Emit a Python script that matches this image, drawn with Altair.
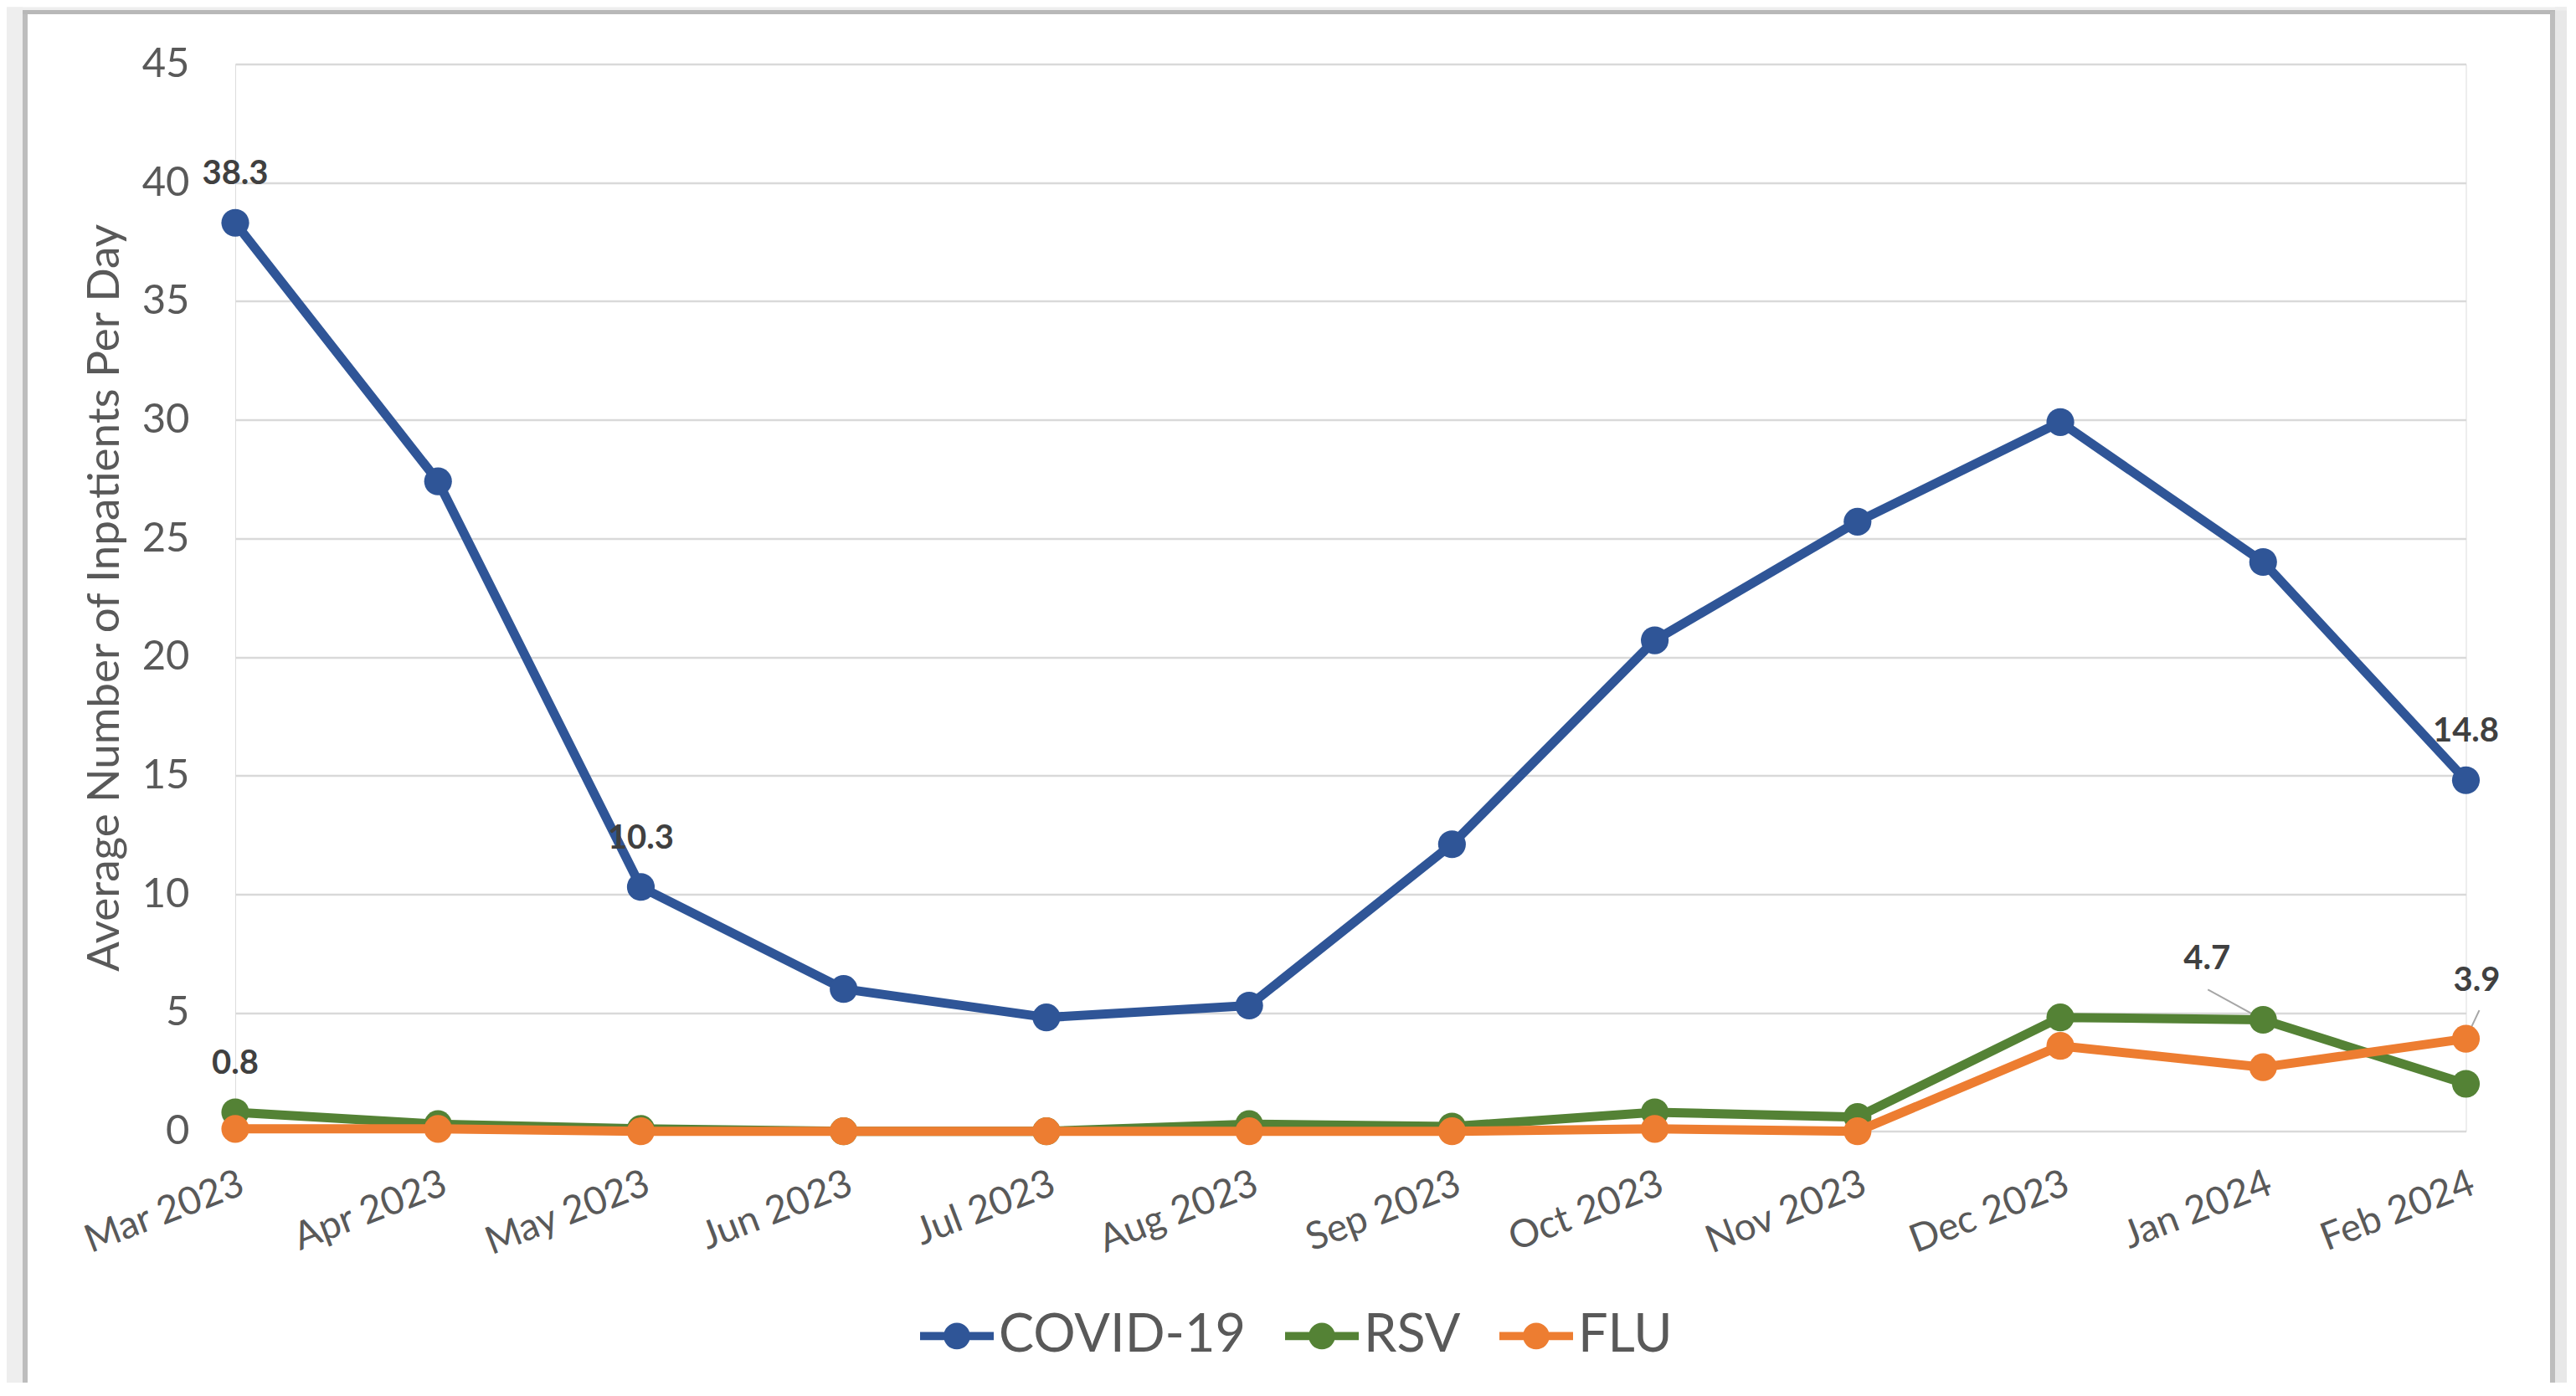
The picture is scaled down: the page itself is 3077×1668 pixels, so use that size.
import altair as alt
import pandas as pd

# ---- data ----
months = ["Mar 2023", "Apr 2023", "May 2023", "Jun 2023", "Jul 2023", "Aug 2023",
          "Sep 2023", "Oct 2023", "Nov 2023", "Dec 2023", "Jan 2024", "Feb 2024"]
covid = [38.3, 27.4, 10.3, 6.0, 4.8, 5.3, 12.1, 20.7, 25.7, 29.9, 24.0, 14.8]
rsv = [0.8, 0.3, 0.1, 0.0, 0.0, 0.3, 0.2, 0.8, 0.6, 4.8, 4.7, 2.0]
flu = [0.1, 0.1, 0.0, 0.0, 0.0, 0.0, 0.0, 0.1, 0.0, 3.6, 2.7, 3.9]
series = ["COVID-19", "RSV", "FLU"]
colors = ["#2F5597", "#548235", "#ED7D31"]
y_ticks = [0, 5, 10, 15, 20, 25, 30, 35, 40, 45]

# which points carry data labels
labels_above = [("COVID-19", "Mar 2023"), ("COVID-19", "May 2023"),
                ("COVID-19", "Feb 2024"), ("RSV", "Mar 2023")]
label_left_leader = [("RSV", "Jan 2024")]
label_right_leader = [("FLU", "Feb 2024")]

rows = []
for s, vals in zip(series, [covid, rsv, flu]):
    for m, v in zip(months, vals):
        rows.append({"month": m, "series": s, "value": v,
                     "lab": "above" if (s, m) in labels_above else
                            ("left" if (s, m) in label_left_leader else
                             ("right" if (s, m) in label_right_leader else "none"))})
df = pd.DataFrame(rows)

FONT = "Lato"
GRAY = "#595959"

x_enc = alt.X("month:N", sort=months,
              scale=alt.Scale(type="point", padding=0),
              axis=alt.Axis(title=None, labelAngle=-21, labelAlign="right",
                            labelBaseline="top", labelPadding=40, ticks=False,
                            tickSize=0, domain=False, grid=False, labelLimit=0,
                            labelFont=FONT, labelFontSize=46, labelColor=GRAY,
                            labelOverlap=False))
y_enc = alt.Y("value:Q",
              scale=alt.Scale(domain=[0, 45], nice=False, zero=True),
              axis=alt.Axis(values=y_ticks, title="Average Number of Inpatients Per Day",
                            titleFont=FONT, titleFontSize=53, titleFontWeight="normal",
                            titleColor=GRAY, titleX=-156, titleY=637.6, titleAngle=-90,
                            titleBaseline="middle", titleAlign="center",
                            labelFont=FONT, labelFontSize=49, labelColor=GRAY,
                            labelPadding=55, ticks=False, tickSize=0, domain=False,
                            grid=True, gridColor="#D9D9D9", gridWidth=2.5))

color_scale = alt.Scale(domain=series, range=colors)

legend_shape = ("M-1,-0.11H-0.3V0.11H-1Z "
                "M0.3,-0.11H1V0.11H0.3Z "
                "M-0.36,0A0.36,0.36 0 1,1 0.36,0A0.36,0.36 0 1,1 -0.36,0Z")

legend = alt.Legend(title=None, orient="none", legendX=818, legendY=1476,
                    direction="horizontal", labelFont=FONT, labelFontSize=63,
                    labelColor=GRAY, symbolType=legend_shape, symbolSize=7744,
                    symbolStrokeWidth=0, symbolOpacity=1, columnPadding=46,
                    labelOffset=6, padding=0, labelLimit=0)

base = alt.Chart(df)

layers = []

# leader lines (under markers)
leader_left = base.transform_filter(alt.datum.lab == "left").mark_rule(
    color="#A6A6A6", strokeWidth=2, xOffset=-66, yOffset=-36, x2Offset=-4, y2Offset=-2
).encode(x=x_enc, x2="month:N", y=y_enc, y2="value:Q")
leader_right = base.transform_filter(alt.datum.lab == "right").mark_rule(
    color="#A6A6A6", strokeWidth=2, xOffset=16, yOffset=-34, x2Offset=0, y2Offset=0
).encode(x=x_enc, x2="month:N", y=y_enc, y2="value:Q")
layers += [leader_left, leader_right]

for s, c in zip(series, colors):
    sub = base.transform_filter(alt.datum.series == s)
    line = sub.mark_line(strokeWidth=11, strokeJoin="round", color=c).encode(
        x=x_enc, y=y_enc)
    pts = sub.mark_point(filled=True, size=1100, opacity=1, shape="circle",
                         strokeWidth=0).encode(
        x=x_enc, y=y_enc,
        color=alt.Color("series:N", scale=color_scale, legend=legend))
    layers += [line, pts]

text_style = dict(font=FONT, fontSize=40, fontWeight="bold", color="#404040",
                  baseline="middle", align="center")
txt_above = base.transform_filter(alt.datum.lab == "above").mark_text(
    dy=-58, **text_style).encode(x=x_enc, y=y_enc, text=alt.Text("value:Q", format=".1f"))
txt_left = base.transform_filter(alt.datum.lab == "left").mark_text(
    dx=-67, dy=-72, **text_style).encode(x=x_enc, y=y_enc, text=alt.Text("value:Q", format=".1f"))
txt_right = base.transform_filter(alt.datum.lab == "right").mark_text(
    dx=13, dy=-69, **text_style).encode(x=x_enc, y=y_enc, text=alt.Text("value:Q", format=".1f"))
layers += [txt_above, txt_left, txt_right]

# chart frame (decoration around the chart area)
frame_data = alt.Data(values=[{}])
frame_left_band = alt.Chart(frame_data).mark_rect(color="#EEEEEE").encode(
    x=alt.value(-273), x2=alt.value(-254), y=alt.value(-68), y2=alt.value(1600))
frame_right_band = alt.Chart(frame_data).mark_rect(color="#E8E8E8").encode(
    x=alt.value(2771), x2=alt.value(2790), y=alt.value(-68), y2=alt.value(1600))
frame_top_band = alt.Chart(frame_data).mark_rect(color="#EEEEEE").encode(
    x=alt.value(-273), x2=alt.value(2790), y=alt.value(-68), y2=alt.value(-64))
frame_left = alt.Chart(frame_data).mark_rule(color="#BDBDBD", strokeWidth=6).encode(
    x=alt.value(-251), y=alt.value(-63), y2=alt.value(1600))
frame_top = alt.Chart(frame_data).mark_rule(color="#B8B8B8", strokeWidth=5).encode(
    x=alt.value(-254), x2=alt.value(2771), y=alt.value(-62))
frame_right = alt.Chart(frame_data).mark_rule(color="#BDBDBD", strokeWidth=6).encode(
    x=alt.value(2768), y=alt.value(-63), y2=alt.value(1600))

chart = alt.layer(frame_left_band, frame_right_band, frame_top_band,
                  frame_left, frame_top, frame_right,
                  *layers).properties(
    width=2664.5, height=1275.3,
    autosize=alt.AutoSizeParams(type="none"),
    padding={"left": 273, "top": 68.4, "right": 120, "bottom": 300},
    background="white",
).configure_view(stroke=None).configure(font=FONT)

chart.save("out.html", embed_options={"renderer": "svg", "actions": False})
